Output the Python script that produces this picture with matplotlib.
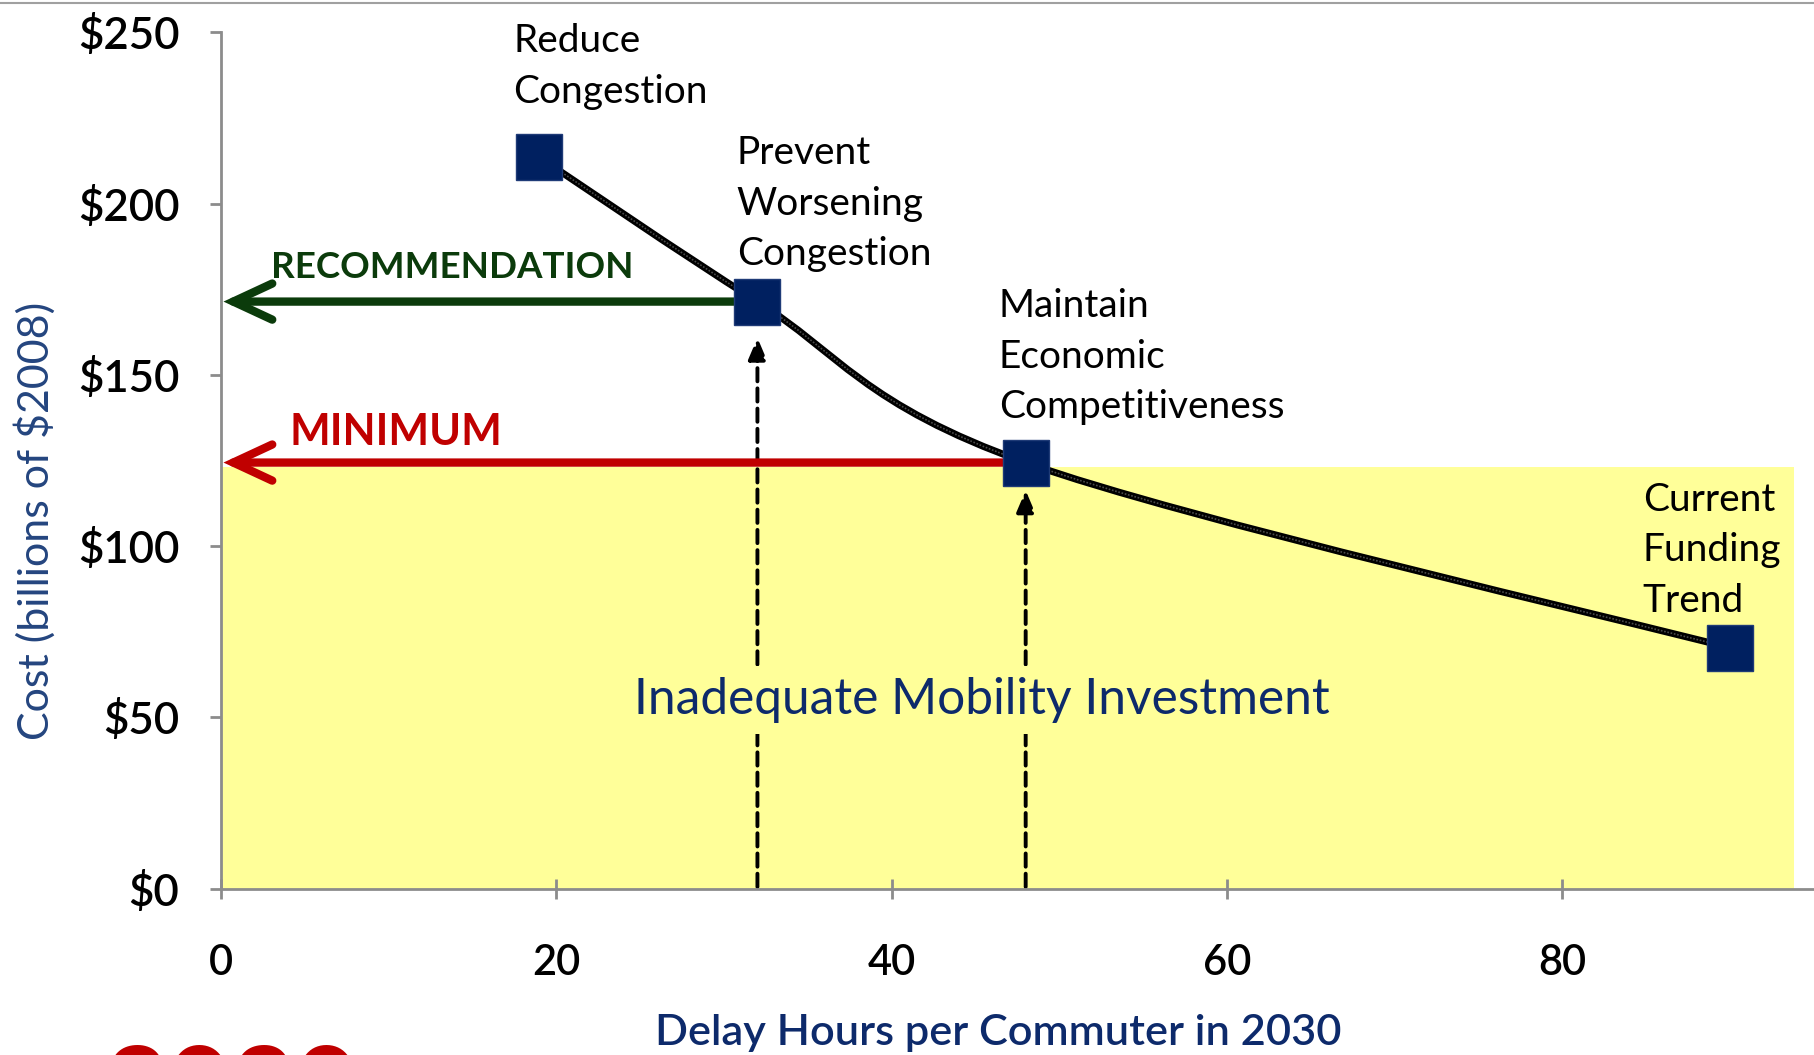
import numpy as np
import matplotlib
matplotlib.use("Agg")
import matplotlib.pyplot as plt
from matplotlib.path import Path
from matplotlib.patches import PathPatch, Rectangle
from matplotlib.lines import Line2D

# ---- data ----
delay_hours = [19, 32, 48, 90]
cost_billions = [213.5, 171.4, 124.4, 70.3]
scenario_labels = ["Reduce\nCongestion", "Prevent\nWorsening\nCongestion",
                   "Maintain\nEconomic\nCompetitiveness", "Current\nFunding\nTrend"]
x_ticks = [0, 20, 40, 60, 80]
y_ticks = [0, 50, 100, 150, 200, 250]
y_tick_labels = ["$0", "$50", "$100", "$150", "$200", "$250"]
inadequate_level = 123
recommendation_idx = 1
minimum_idx = 2

plt.rcParams['font.family'] = ['Lato', 'DejaVu Sans']

fig = plt.figure(figsize=(18.14, 10.55), dpi=100)
ax = fig.add_axes([0.1218, 0.1577, 0.878, 0.8116])
ax.set_xlim(0, 95)
ax.set_ylim(0, 250)

# yellow region
ax.add_patch(Rectangle((0, 0), 93.8, inadequate_level, facecolor='#FFFF99',
                       edgecolor='none', zorder=0))

# smooth (Catmull-Rom bezier) curve through points
pts = np.column_stack([delay_hours, cost_billions]).astype(float)
n = len(pts)
verts = [pts[0]]
codes = [Path.MOVETO]
for i in range(n - 1):
    p0 = pts[i - 1] if i > 0 else pts[i]
    p1 = pts[i]
    p2 = pts[i + 1]
    p3 = pts[i + 2] if i + 2 < n else pts[i + 1]
    c1 = p1 + (p2 - p0) / 6
    c2 = p2 - (p3 - p1) / 6
    verts += [c1, c2, p2]
    codes += [Path.CURVE4] * 3
ax.add_patch(PathPatch(Path(verts, codes), fill=False, lw=5, edgecolor='black',
                       zorder=4, capstyle='round'))
ax.add_patch(PathPatch(Path(verts, codes), fill=False, lw=1.2, edgecolor='#4A4A4A',
                       zorder=4, linestyle=(0, (1, 1))))

# vertical dashed arrows
for idx, shrink in [(recommendation_idx, 26), (minimum_idx, 20)]:
    ax.annotate('', xy=(delay_hours[idx], cost_billions[idx]),
                xytext=(delay_hours[idx], 0.5),
                arrowprops=dict(arrowstyle='-|>,head_length=13,head_width=5.5',
                                color='black', lw=2.8, linestyle=(0, (3.4, 1.8)),
                                shrinkA=0, shrinkB=shrink, mutation_scale=1),
                zorder=2)

# horizontal arrows
for idx, col in [(recommendation_idx, '#0B3B0B'), (minimum_idx, '#C00000')]:
    ax.annotate('', xy=(0.15, cost_billions[idx]),
                xytext=(delay_hours[idx], cost_billions[idx]),
                arrowprops=dict(arrowstyle='->,head_length=28,head_width=13',
                                color=col, lw=6, shrinkA=0, shrinkB=0,
                                mutation_scale=1, capstyle='round', joinstyle='miter'),
                zorder=3)

ax.text(2.97, 181.4, "RECOMMENDATION", color='#0B3B0B', fontsize=26.5,
        fontweight='bold', va='center', ha='left', zorder=5)
ax.text(4.07, 133.4, "MINIMUM", color='#C00000', fontsize=31,
        fontweight='bold', va='center', ha='left', zorder=5)

# markers
ax.plot(delay_hours, cost_billions, linestyle='none', marker='s', markersize=33,
        markerfacecolor='#002060', markeredgecolor='#1F3B77', markeredgewidth=1,
        zorder=6)

# scenario labels
label_pos = [(17.45, 240.0), (30.76, 200.0), (46.4, 155.3), (84.8, 98.8)]
for (lx, ly), txt in zip(label_pos, scenario_labels):
    ax.text(lx, ly, txt, fontsize=28, va='center', ha='left', color='black',
            linespacing=1.5, zorder=5)

ax.text(45.4, 55, "Inadequate Mobility Investment", fontsize=35.7, color='#0D2A6B',
        ha='center', va='center', zorder=5,
        bbox=dict(facecolor='#FFFF99', edgecolor='none', pad=8))

# axes styling
for s in ['top', 'right']:
    ax.spines[s].set_visible(False)
for s in ['left', 'bottom']:
    ax.spines[s].set_color('#8C8C8C')
    ax.spines[s].set_linewidth(2)
ax.set_xticks(x_ticks)
ax.set_yticks(y_ticks)
ax.set_yticklabels(y_tick_labels)
ax.tick_params(axis='x', direction='inout', length=14, width=2, color='#8C8C8C',
               labelsize=30, pad=33)
ax.tick_params(axis='y', direction='out', length=8, width=2, color='#8C8C8C',
               labelsize=31.5, pad=22)
for lab in ax.get_xticklabels() + ax.get_yticklabels():
    lab.set_fontweight('semibold')

ax.set_xlabel("Delay Hours per Commuter in 2030", fontsize=31.2, color='#0D2A6B',
              fontweight='semibold')
ax.xaxis.set_label_coords(0.488, -0.146)
ax.set_ylabel("Cost (billions of $2008)", fontsize=31, color='#24457F')
ax.yaxis.set_label_coords(-0.104, 0.43)

# top border line
fig.add_artist(Line2D([0, 1], [0.997, 0.997], transform=fig.transFigure,
                      color='#A0A0A0', lw=1.5))
# partially visible red "2030" at bottom-left
fig.text(0.058, -0.066, "2030", fontsize=79, fontweight='bold', color='#C00000',
         ha='left', va='baseline')

fig.savefig("out.png", dpi=100)
